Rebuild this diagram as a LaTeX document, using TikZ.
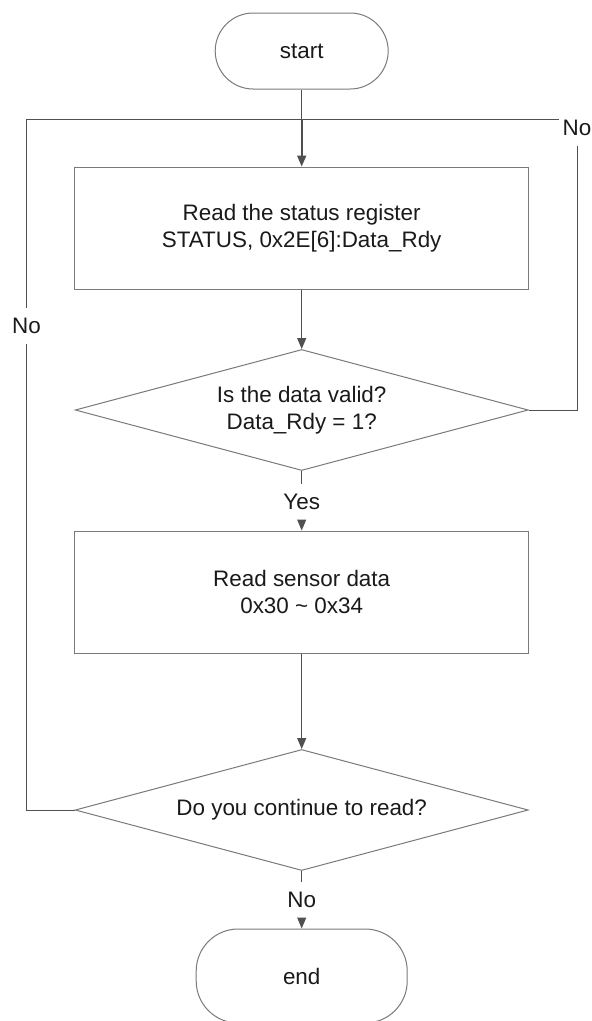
\documentclass[tikz,border=0pt]{standalone}
\usepackage{fontspec}
\setmainfont{Liberation Sans}
\usetikzlibrary{shapes.geometric,arrows.meta}
\definecolor{linec}{HTML}{505050}
\definecolor{borderc}{HTML}{7A7A7A}
\definecolor{textc}{HTML}{1A1A1A}
\begin{document}
\begin{tikzpicture}[x=1bp,y=-1bp,
 font=\fontsize{22.5}{27}\selectfont, text=textc,
 term/.style={draw=borderc, line width=1bp, rounded corners=38bp, minimum width=173bp, minimum height=76bp, inner sep=0},
 proc/.style={draw=borderc, line width=1bp, minimum width=454bp, minimum height=122bp, align=center, inner sep=0},
 dec/.style={diamond, aspect=3.74, draw=borderc, line width=1bp, minimum width=453bp, minimum height=121bp, align=center, inner sep=0},
 lbl/.style={inner sep=0, minimum height=36bp, minimum width=36bp},
 conn/.style={draw=linec, line width=1bp},
 arr/.style={conn, -{Triangle[length=11bp,width=9bp]}}
]
\useasboundingbox (0,0) rectangle (592,1021);
\fill[white] (0,0) rectangle (592,1021);
\node[term] (st) at (301.7,51) {start};
\node[proc] (b1) at (301.7,228) {Read the status register\\STATUS, 0x2E[6]:Data\_Rdy};
\node[dec] (d1) at (301.7,410) {Is the data valid?\\Data\_Rdy = 1?};
\node[lbl] (yes) at (301.7,502) {Yes};
\node[proc] (b2) at (301.7,592) {Read sensor data\\0x30 \textasciitilde{} 0x34};
\node[dec] (d2) at (301.7,810) {Do you continue to read?};
\node[lbl] (noB) at (301.7,900) {No};
\node[term, minimum width=211bp, minimum height=94bp, rounded corners=42bp] (en) at (301.7,976) {end};
\node[lbl] (noL) at (26.4,326) {No};
\node[lbl] (noR) at (577,128) {No};
\coordinate (j) at (301.7,119.5);
\draw[conn] (st.south) -- (j);
\draw[arr, line width=1.8bp] (j) -- (b1.north);
\draw[arr] (b1.south) -- (d1.north);
\draw[conn] (d1.south) -- (yes.north);
\draw[arr] (yes.south) -- (b2.north);
\draw[arr] (b2.south) -- (d2.north);
\draw[conn] (d2.south) -- (noB.north);
\draw[arr] (noB.south) -- (en.north);
\draw[conn] (d1.east) -| (noR.south);
\draw[conn] (noR.west |- j) -- (j);
\draw[conn] (d2.west) -| (noL.south);
\draw[conn] (noL.north) |- (j);
\end{tikzpicture}
\end{document}
